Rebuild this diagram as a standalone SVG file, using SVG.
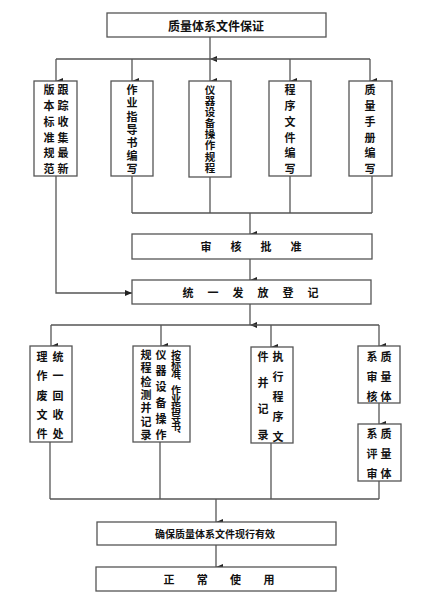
<svg xmlns="http://www.w3.org/2000/svg" width="426" height="595" viewBox="0 0 426 595">
<style>
.box{fill:#fff;stroke:#555;stroke-width:1.3}
.ln{fill:none;stroke:#555;stroke-width:1.3}
text{font-family:"Noto Sans CJK SC","Noto Sans CJK TC",sans-serif;font-weight:bold;fill:#111}
.h{text-anchor:middle;dominant-baseline:central}
.hs{text-anchor:start;dominant-baseline:central;font-size:11px}
.v{writing-mode:vertical-rl;text-anchor:start;font-size:11px}
.t12{font-size:12px}
.t10{font-size:10px}
</style>
<defs>
<marker id="ah" markerUnits="userSpaceOnUse" markerWidth="6" markerHeight="7" refX="3" refY="7" orient="auto" viewBox="0 0 6 7">
<path d="M0,0 L6,0 L3,7 Z" fill="#222"/>
</marker>
<marker id="ahr" markerUnits="userSpaceOnUse" markerWidth="7" markerHeight="6" refX="7" refY="3" viewBox="0 0 7 6">
<path d="M0,0 L7,3 L0,6 Z" fill="#222"/>
</marker>
</defs>
<rect width="426" height="595" fill="#fff"/>
<g id="connectors">
<line class="ln" x1="210" y1="37" x2="210" y2="59" marker-end="url(#ah)"/>
<line class="ln" x1="56" y1="59" x2="370" y2="59"/>
<line class="ln" x1="56" y1="59" x2="56" y2="81" marker-end="url(#ah)"/>
<line class="ln" x1="132" y1="59" x2="132" y2="81" marker-end="url(#ah)"/>
<line class="ln" x1="210" y1="59" x2="210" y2="81" marker-end="url(#ah)"/>
<line class="ln" x1="290" y1="59" x2="290" y2="81" marker-end="url(#ah)"/>
<line class="ln" x1="370" y1="59" x2="370" y2="81" marker-end="url(#ah)"/>
<polyline class="ln" points="56,176 56,293 132,293" marker-end="url(#ahr)"/>
<line class="ln" x1="132" y1="176" x2="132" y2="213"/>
<line class="ln" x1="210" y1="177" x2="210" y2="213"/>
<line class="ln" x1="290" y1="176" x2="290" y2="213"/>
<line class="ln" x1="372" y1="176" x2="372" y2="213"/>
<line class="ln" x1="132" y1="213" x2="372" y2="213"/>
<line class="ln" x1="250" y1="213" x2="250" y2="234" marker-end="url(#ah)"/>
<line class="ln" x1="250" y1="259" x2="250" y2="280" marker-end="url(#ah)"/>
<line class="ln" x1="250" y1="304" x2="250" y2="325" marker-end="url(#ah)"/>
<line class="ln" x1="51" y1="325" x2="379" y2="325"/>
<line class="ln" x1="51" y1="325" x2="51" y2="346" marker-end="url(#ah)"/>
<line class="ln" x1="161" y1="325" x2="161" y2="346" marker-end="url(#ah)"/>
<line class="ln" x1="271" y1="325" x2="271" y2="347" marker-end="url(#ah)"/>
<line class="ln" x1="379" y1="325" x2="379" y2="346" marker-end="url(#ah)"/>
<line class="ln" x1="379" y1="403" x2="379" y2="424" marker-end="url(#ah)"/>
<line class="ln" x1="50" y1="442" x2="50" y2="499"/>
<line class="ln" x1="160" y1="442" x2="160" y2="499"/>
<line class="ln" x1="271" y1="443" x2="271" y2="499"/>
<line class="ln" x1="379" y1="481" x2="379" y2="499"/>
<line class="ln" x1="50" y1="499" x2="379" y2="499"/>
<line class="ln" x1="216" y1="499" x2="216" y2="522" marker-end="url(#ah)"/>
<line class="ln" x1="216" y1="545" x2="216" y2="567" marker-end="url(#ah)"/>
</g>
<g id="n-top">
<rect class="box" x="107" y="13" width="219" height="24"/>
<text class="h t12" x="216" y="25">质量体系文件保证</text>
</g>
<g id="n-b1">
<rect class="box" x="34" y="81" width="43" height="95"/>
<text class="v" x="49" y="84.5" letter-spacing="4.8">版本标准规范</text>
<text class="v" x="63" y="84.5" letter-spacing="4.8">跟踪收集最新</text>
</g>
<g id="n-b2">
<rect class="box" x="111" y="81" width="42" height="95"/>
<text class="v" x="132" y="84.5" letter-spacing="2.2">作业指导书编写</text>
</g>
<g id="n-b3">
<rect class="box" x="189" y="81" width="42" height="96"/>
<text class="v" x="210" y="84.7" letter-spacing="0.6" style="font-size:10.5px">仪器设备操作规程</text>
</g>
<g id="n-b4">
<rect class="box" x="269" y="81" width="42" height="95"/>
<text class="v" x="290" y="84.5" letter-spacing="4.8">程序文件编写</text>
</g>
<g id="n-b5">
<rect class="box" x="349" y="81" width="43" height="95"/>
<text class="v" x="370" y="84.5" letter-spacing="4.8">质量手册编写</text>
</g>
<g id="n-review">
<rect class="box" x="132" y="234" width="240" height="25"/>
<text class="hs" x="200.5" y="246" letter-spacing="19">审核批准</text>
</g>
<g id="n-issue">
<rect class="box" x="132" y="280" width="239" height="24"/>
<text class="hs" x="182.5" y="292" letter-spacing="14">统一发放登记</text>
</g>
<g id="n-c1">
<rect class="box" x="30" y="346" width="42" height="96"/>
<text class="v" x="42" y="351.5" letter-spacing="8.25">理作废文件</text>
<text class="v" x="58" y="351.5" letter-spacing="8.25">统一回收处</text>
</g>
<g id="n-c2">
<rect class="box" x="133" y="346" width="57" height="96"/>
<text class="v" x="146" y="349.5" letter-spacing="2.3">规程检测并记录</text>
<text class="v" x="161" y="349.5" letter-spacing="5">仪器设备操作</text>
<text class="v" x="176" y="350" letter-spacing="-1.1" style="font-size:10px">按标准、作业指导书、</text>
</g>
<g id="n-c3">
<rect class="box" x="251" y="347" width="42" height="96"/>
<text class="v" x="263" y="351.5" letter-spacing="15">件并记录</text>
<text class="v" x="278" y="351.5" letter-spacing="9">执行程序文</text>
</g>
<g id="n-c4">
<rect class="box" x="358" y="346" width="42" height="57"/>
<text class="v" x="372" y="351.5" letter-spacing="9">系审核</text>
<text class="v" x="386" y="351.5" letter-spacing="9">质量体</text>
</g>
<g id="n-c5">
<rect class="box" x="358" y="424" width="43" height="57"/>
<text class="v" x="372" y="428.5" letter-spacing="9">系评审</text>
<text class="v" x="386" y="428.5" letter-spacing="9">质量体</text>
</g>
<g id="n-ensure">
<rect class="box" x="97" y="522" width="239" height="23"/>
<text class="h t10" x="215" y="533.5">确保质量体系文件现行有效</text>
</g>
<g id="n-use">
<rect class="box" x="96" y="567" width="240" height="24"/>
<text class="hs" x="163.5" y="579" letter-spacing="22.3">正常使用</text>
</g>
</svg>
